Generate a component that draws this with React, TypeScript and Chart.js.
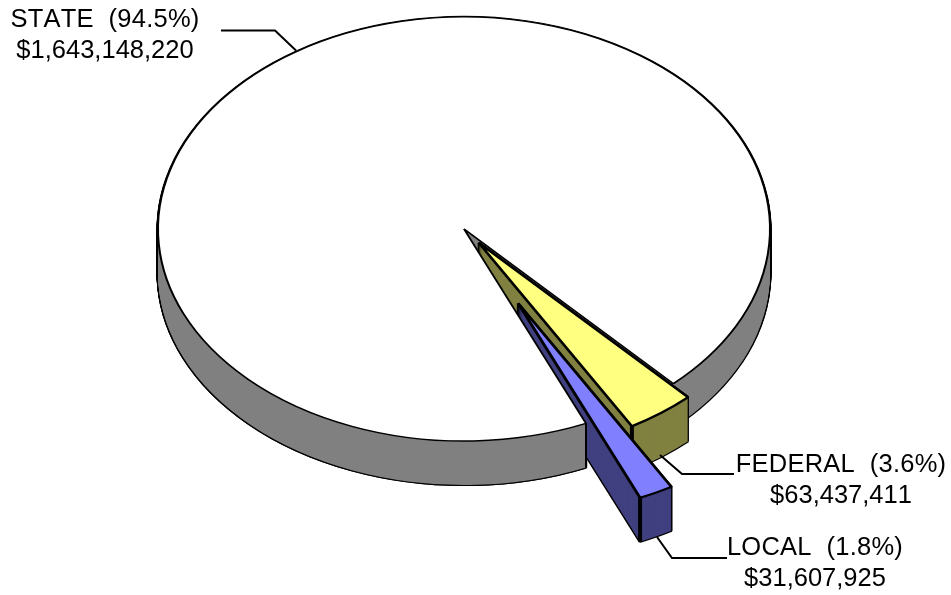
import React, { useEffect, useRef } from "react";
import { Chart, registerables, ArcElement } from "chart.js";

Chart.register(...registerables);

const categories = ["STATE", "FEDERAL", "LOCAL"];
const amounts = [1643148220, 63437411, 31607925];
const percentLabels = ["94.5%", "3.6%", "1.8%"];
const amountLabels = ["$1,643,148,220", "$63,437,411", "$31,607,925"];

const topColors = ["#FFFFFF", "#FFFF80", "#8080FF"];
const wallColors = ["#808080", "#808040", "#404080"];
const explode = [0, 24.6, 120];
const borderWidths = [2, 3, 3];

const WIDTH = 951;
const HEIGHT = 595;
const PIE_CX = 464;
const PIE_CY = 229;
const PIE_R = 306;
const TILT = 0.693;
const DEPTH = 44;
const ROTATION = 156.5;

const labelCenters = [
  [105, 27],
  [841, 472],
  [815, 555],
];
const leaderPaths = [
  [[221, 30.5], [275, 30.5], [296, 50.5]],
  [[660, 455], [682, 474], [734, 474]],
  [[657, 537], [672, 558], [727, 558]],
];
const LINE_GAP = 30.5;

function sliceOrigin(el: any, i: number, dy = 0) {
  const mid = (el.startAngle + el.endAngle) / 2;
  return [
    PIE_CX + Math.cos(mid) * explode[i],
    PIE_CY + dy + Math.sin(mid) * explode[i] * TILT,
  ];
}

function rimPoint(el: any, i: number, angle: number, dy = 0) {
  const [ox, oy] = sliceOrigin(el, i, dy);
  return [ox + Math.cos(angle) * el.outerRadius, oy + Math.sin(angle) * el.outerRadius * TILT];
}

function drawSlice(ctx: CanvasRenderingContext2D, el: any, i: number, dy: number, over: any) {
  const mid = (el.startAngle + el.endAngle) / 2;
  const fake = Object.create(el);
  fake.options = { ...el.options, ...over };
  ctx.save();
  ctx.translate(PIE_CX, PIE_CY + dy);
  ctx.scale(1, TILT);
  ctx.translate(Math.cos(mid) * explode[i], Math.sin(mid) * explode[i]);
  ctx.translate(-el.x, -el.y);
  ArcElement.prototype.draw.call(fake, ctx);
  ctx.restore();
}

function drawWalls(ctx: CanvasRenderingContext2D, el: any, i: number) {
  for (let d = DEPTH; d >= 0; d -= 1) {
    drawSlice(ctx, el, i, d, {
      backgroundColor: "rgba(0,0,0,0)",
      borderColor: "#000000",
      borderWidth: 3,
    });
  }
  for (let d = DEPTH; d >= 0; d -= 1) {
    drawSlice(ctx, el, i, d, { backgroundColor: wallColors[i], borderWidth: 0 });
  }
}

function drawTop(ctx: CanvasRenderingContext2D, el: any, i: number) {
  drawSlice(ctx, el, i, 0, {
    backgroundColor: topColors[i],
    borderColor: "#000000",
    borderWidth: borderWidths[i],
  });
}

function verticalEdge(ctx: CanvasRenderingContext2D, el: any, i: number, angle: number, width: number) {
  const [x, y] = rimPoint(el, i, angle);
  ctx.save();
  ctx.strokeStyle = "#000000";
  ctx.lineWidth = width;
  ctx.beginPath();
  ctx.moveTo(x, y);
  ctx.lineTo(x, y + DEPTH);
  ctx.stroke();
  ctx.restore();
}

const pie3dPlugin = {
  id: "pie3d",
  beforeDatasetsDraw(chart: any) {
    const ctx = chart.ctx as CanvasRenderingContext2D;
    const arcs = chart.getDatasetMeta(0).data;
    const [state, federal, local] = arcs;

    drawWalls(ctx, state, 0);

    drawWalls(ctx, federal, 1);
    verticalEdge(ctx, federal, 1, federal.endAngle, 4);
    drawTop(ctx, federal, 1);

    drawWalls(ctx, local, 2);
    verticalEdge(ctx, local, 2, local.endAngle, 4);
    drawTop(ctx, local, 2);

    // The part of the state wall left of its cut stands in front of the local slice.
    const [cornerX, cornerY] = rimPoint(state, 0, state.startAngle);
    ctx.save();
    ctx.beginPath();
    ctx.moveTo(PIE_CX, PIE_CY);
    ctx.lineTo(cornerX, cornerY);
    ctx.lineTo(cornerX, HEIGHT);
    ctx.lineTo(0, HEIGHT);
    ctx.lineTo(0, PIE_CY);
    ctx.closePath();
    ctx.clip();
    drawWalls(ctx, state, 0);
    ctx.restore();
    verticalEdge(ctx, state, 0, state.startAngle, 2);

    drawTop(ctx, state, 0);
    return false;
  },
  afterDraw(chart: any) {
    const ctx = chart.ctx as any;
    ctx.save();
    ctx.strokeStyle = "#000000";
    ctx.lineWidth = 2;
    leaderPaths.forEach((path) => {
      ctx.beginPath();
      path.forEach(([x, y], k) => (k === 0 ? ctx.moveTo(x, y) : ctx.lineTo(x, y)));
      ctx.stroke();
    });
    ctx.fillStyle = "#000000";
    ctx.font = '25.5px "Liberation Sans", Arial, sans-serif';
    ctx.fontKerning = "none";
    ctx.textAlign = "center";
    ctx.textBaseline = "alphabetic";
    categories.forEach((name, i) => {
      const [x, y] = labelCenters[i];
      ctx.letterSpacing = "0.25px";
      ctx.fillText(`${name}  (${percentLabels[i]})`, x, y);
      ctx.letterSpacing = "0px";
      ctx.fillText(amountLabels[i], x, y + LINE_GAP);
    });
    ctx.restore();
  },
};

export default function App() {
  const ref = useRef<HTMLCanvasElement>(null);
  useEffect(() => {
    const chart = new Chart(ref.current as HTMLCanvasElement, {
      type: "pie",
      data: {
        labels: categories,
        datasets: [
          {
            data: amounts,
            backgroundColor: topColors,
            borderColor: "#000000",
            borderWidth: borderWidths,
            radius: PIE_R,
          } as any,
        ],
      },
      options: {
        animation: false,
        responsive: false,
        rotation: ROTATION,
        events: [],
        layout: { padding: 0 },
        plugins: { legend: { display: false }, tooltip: { enabled: false } },
      },
      plugins: [pie3dPlugin],
    } as any);
    return () => chart.destroy();
  }, []);
  return (
    <canvas
      ref={ref}
      width={WIDTH}
      height={HEIGHT}
      style={{ position: "absolute", left: 0, top: 0, width: WIDTH, height: HEIGHT }}
    />
  );
}
